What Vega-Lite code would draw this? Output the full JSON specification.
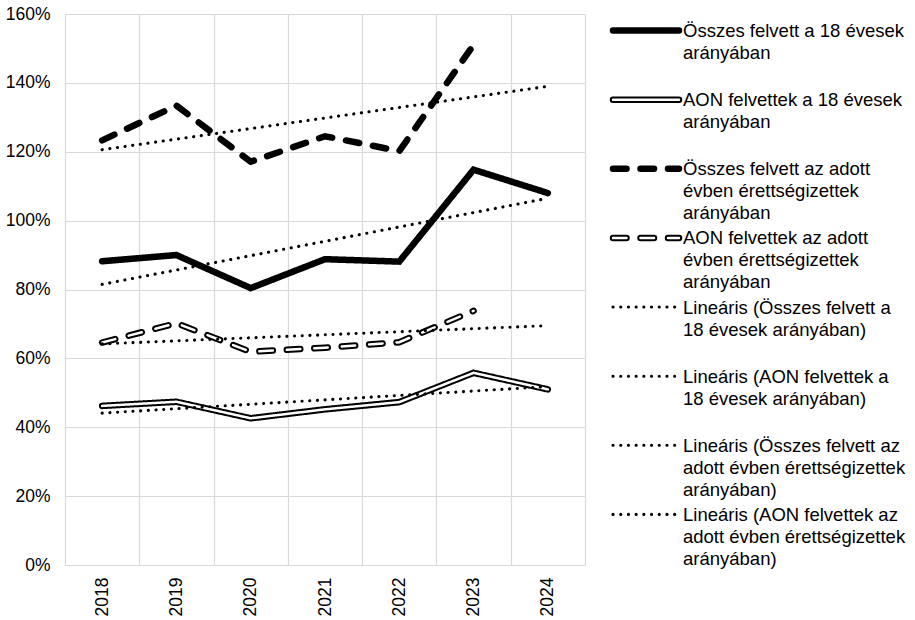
{
  "$schema": "https://vega.github.io/schema/vega-lite/v6.json",
  "background": "white",
  "padding": {"left": 5, "top": 5, "right": 5, "bottom": 2},
  "bounds": "flush",
  "spacing": 28,
  "config": {
    "font": "Liberation Sans",
    "view": {"stroke": null},
    "axis": {"labelFont": "Liberation Sans", "labelFontSize": 17.5, "labelColor": "#000000", "title": null, "gridColor": "#d9d9d9", "gridWidth": 1.2, "ticks": false}
  },
  "datasets": {
    "rows": [
      {"year": "2018", "kind": "tény", "series": "Összes felvett a 18 évesek arányában", "value": 0.882},
      {"year": "2019", "kind": "tény", "series": "Összes felvett a 18 évesek arányában", "value": 0.900},
      {"year": "2020", "kind": "tény", "series": "Összes felvett a 18 évesek arányában", "value": 0.804},
      {"year": "2021", "kind": "tény", "series": "Összes felvett a 18 évesek arányában", "value": 0.888},
      {"year": "2022", "kind": "tény", "series": "Összes felvett a 18 évesek arányában", "value": 0.881},
      {"year": "2023", "kind": "tény", "series": "Összes felvett a 18 évesek arányában", "value": 1.148},
      {"year": "2024", "kind": "tény", "series": "Összes felvett a 18 évesek arányában", "value": 1.080},
      {"year": "2018", "kind": "tény", "series": "AON felvettek a 18 évesek arányában", "value": 0.462},
      {"year": "2019", "kind": "tény", "series": "AON felvettek a 18 évesek arányában", "value": 0.474},
      {"year": "2020", "kind": "tény", "series": "AON felvettek a 18 évesek arányában", "value": 0.426},
      {"year": "2021", "kind": "tény", "series": "AON felvettek a 18 évesek arányában", "value": 0.452},
      {"year": "2022", "kind": "tény", "series": "AON felvettek a 18 évesek arányában", "value": 0.473},
      {"year": "2023", "kind": "tény", "series": "AON felvettek a 18 évesek arányában", "value": 0.558},
      {"year": "2024", "kind": "tény", "series": "AON felvettek a 18 évesek arányában", "value": 0.510},
      {"year": "2018", "kind": "tény", "series": "Összes felvett az adott évben érettségizettek arányában", "value": 1.233},
      {"year": "2019", "kind": "tény", "series": "Összes felvett az adott évben érettségizettek arányában", "value": 1.334},
      {"year": "2020", "kind": "tény", "series": "Összes felvett az adott évben érettségizettek arányában", "value": 1.171},
      {"year": "2021", "kind": "tény", "series": "Összes felvett az adott évben érettségizettek arányában", "value": 1.245},
      {"year": "2022", "kind": "tény", "series": "Összes felvett az adott évben érettségizettek arányában", "value": 1.202},
      {"year": "2023", "kind": "tény", "series": "Összes felvett az adott évben érettségizettek arányában", "value": 1.510},
      {"year": "2018", "kind": "tény", "series": "AON felvettek az adott évben érettségizettek arányában", "value": 0.646},
      {"year": "2019", "kind": "tény", "series": "AON felvettek az adott évben érettségizettek arányában", "value": 0.702},
      {"year": "2020", "kind": "tény", "series": "AON felvettek az adott évben érettségizettek arányában", "value": 0.619},
      {"year": "2021", "kind": "tény", "series": "AON felvettek az adott évben érettségizettek arányában", "value": 0.631},
      {"year": "2022", "kind": "tény", "series": "AON felvettek az adott évben érettségizettek arányában", "value": 0.647},
      {"year": "2023", "kind": "tény", "series": "AON felvettek az adott évben érettségizettek arányában", "value": 0.738},
      {"year": "2018", "kind": "trend", "series": "Lineáris (Összes felvett a 18 évesek arányában)", "value": 0.815},
      {"year": "2024", "kind": "trend", "series": "Lineáris (Összes felvett a 18 évesek arányában)", "value": 1.065},
      {"year": "2018", "kind": "trend", "series": "Lineáris (AON felvettek a 18 évesek arányában)", "value": 0.441},
      {"year": "2024", "kind": "trend", "series": "Lineáris (AON felvettek a 18 évesek arányában)", "value": 0.518},
      {"year": "2018", "kind": "trend", "series": "Lineáris (Összes felvett az adott évben érettségizettek arányában)", "value": 1.206},
      {"year": "2024", "kind": "trend", "series": "Lineáris (Összes felvett az adott évben érettségizettek arányában)", "value": 1.390},
      {"year": "2018", "kind": "trend", "series": "Lineáris (AON felvettek az adott évben érettségizettek arányában)", "value": 0.642},
      {"year": "2024", "kind": "trend", "series": "Lineáris (AON felvettek az adott évben érettségizettek arányában)", "value": 0.695}
    ],
    "legend": [
      {"series": "Összes felvett a 18 évesek arányában", "kind": "tény", "label": "Összes felvett a 18 évesek|arányában"},
      {"series": "AON felvettek a 18 évesek arányában", "kind": "tény", "label": "AON felvettek a 18 évesek|arányában"},
      {"series": "Összes felvett az adott évben érettségizettek arányában", "kind": "tény", "label": "Összes felvett az adott|évben érettségizettek|arányában"},
      {"series": "AON felvettek az adott évben érettségizettek arányában", "kind": "tény", "label": "AON felvettek az adott|évben érettségizettek|arányában"},
      {"series": "Lineáris (Összes felvett a 18 évesek arányában)", "kind": "trend", "label": "Lineáris (Összes felvett a|18 évesek arányában)"},
      {"series": "Lineáris (AON felvettek a 18 évesek arányában)", "kind": "trend", "label": "Lineáris (AON felvettek a|18 évesek arányában)"},
      {"series": "Lineáris (Összes felvett az adott évben érettségizettek arányában)", "kind": "trend", "label": "Lineáris (Összes felvett az|adott évben érettségizettek|arányában)"},
      {"series": "Lineáris (AON felvettek az adott évben érettségizettek arányában)", "kind": "trend", "label": "Lineáris (AON felvettek az|adott évben érettségizettek|arányában)"}
    ]
  },
  "hconcat": [
    {
      "width": 520,
      "height": 551,
      "data": {"name": "rows"},
      "encoding": {
        "x": {
          "field": "year", "type": "ordinal",
          "scale": {"type": "band", "paddingInner": 0, "paddingOuter": 0},
          "axis": {"labelAngle": -90, "labelAlign": "right", "labelBaseline": "middle", "labelPadding": 12, "tickBand": "extent", "domainColor": "#d9d9d9", "domainWidth": 1.2, "grid": true}
        },
        "y": {
          "field": "value", "type": "quantitative",
          "scale": {"domain": [0, 1.6], "nice": false},
          "axis": {"format": ".0%", "values": [0, 0.2, 0.4, 0.6, 0.8, 1.0, 1.2, 1.4, 1.6], "domain": false, "labelPadding": 15}
        },
        "strokeDash": {
          "field": "series", "type": "nominal", "legend": null,
          "scale": {
            "domain": [
              "Összes felvett a 18 évesek arányában",
              "AON felvettek a 18 évesek arányában",
              "Összes felvett az adott évben érettségizettek arányában",
              "AON felvettek az adott évben érettségizettek arányában",
              "Lineáris (Összes felvett a 18 évesek arányában)",
              "Lineáris (AON felvettek a 18 évesek arányában)",
              "Lineáris (Összes felvett az adott évben érettségizettek arányában)",
              "Lineáris (AON felvettek az adott évben érettségizettek arányában)"
            ],
            "range": [[1, 0], [1, 0], [13.5, 14], [13.5, 14], [0.1, 7.6], [0.1, 7.6], [0.1, 7.6], [0.1, 7.6]]
          }
        }
      },
      "layer": [
        {
          "transform": [{"filter": "datum.kind == 'tény'"}],
          "mark": {"type": "line", "color": "#000000", "strokeWidth": 6.5, "strokeCap": "round", "strokeJoin": "miter"}
        },
        {
          "transform": [{"filter": "datum.kind == 'tény' && indexof(datum.series, 'AON') == 0"}],
          "mark": {"type": "line", "color": "#ffffff", "strokeWidth": 2.5, "strokeCap": "round", "strokeJoin": "miter"}
        },
        {
          "transform": [{"filter": "datum.kind == 'trend'"}],
          "mark": {"type": "line", "color": "#000000", "strokeWidth": 3.1, "strokeCap": "round"}
        }
      ]
    },
    {
      "width": 66,
      "height": 517,
      "data": {"name": "legend"},
      "encoding": {
        "y": {
          "field": "series", "type": "nominal", "axis": null,
          "sort": null,
          "scale": {"type": "point", "padding": 0.24}
        },
        "strokeDash": {
          "field": "series", "type": "nominal", "legend": null,
          "scale": {
            "domain": [
              "Összes felvett a 18 évesek arányában",
              "AON felvettek a 18 évesek arányában",
              "Összes felvett az adott évben érettségizettek arányában",
              "AON felvettek az adott évben érettségizettek arányában",
              "Lineáris (Összes felvett a 18 évesek arányában)",
              "Lineáris (AON felvettek a 18 évesek arányában)",
              "Lineáris (Összes felvett az adott évben érettségizettek arányában)",
              "Lineáris (AON felvettek az adott évben érettségizettek arányában)"
            ],
            "range": [[1, 0], [1, 0], [13.5, 14], [13.5, 14], [0.1, 7.6], [0.1, 7.6], [0.1, 7.6], [0.1, 7.6]]
          }
        }
      },
      "layer": [
        {
          "transform": [{"filter": "datum.kind == 'tény'"}],
          "mark": {"type": "rule", "color": "#000000", "strokeWidth": 6.5, "strokeCap": "round"},
          "encoding": {
            "x": {"datum": 0, "type": "quantitative", "scale": {"domain": [0, 1]}, "axis": null},
            "x2": {"datum": 1}
          }
        },
        {
          "transform": [{"filter": "datum.kind == 'tény' && indexof(datum.series, 'AON') == 0"}],
          "mark": {"type": "rule", "color": "#ffffff", "strokeWidth": 2.5, "strokeCap": "round"},
          "encoding": {
            "x": {"datum": 0, "type": "quantitative", "scale": {"domain": [0, 1]}, "axis": null},
            "x2": {"datum": 1}
          }
        },
        {
          "transform": [{"filter": "datum.kind == 'trend'"}],
          "mark": {"type": "rule", "color": "#000000", "strokeWidth": 3.1, "strokeCap": "round"},
          "encoding": {
            "x": {"datum": 0, "type": "quantitative", "scale": {"domain": [0, 1]}, "axis": null},
            "x2": {"datum": 1}
          }
        },
        {
          "mark": {"type": "text", "align": "left", "baseline": "alphabetic", "lineBreak": "|", "font": "Liberation Sans", "fontSize": 18.5, "lineHeight": 22, "dx": 4, "dy": 6.5, "color": "#000000"},
          "encoding": {
            "x": {"datum": 1, "type": "quantitative", "scale": {"domain": [0, 1]}, "axis": null},
            "text": {"field": "label"},
            "strokeDash": null
          }
        }
      ]
    }
  ]
}
